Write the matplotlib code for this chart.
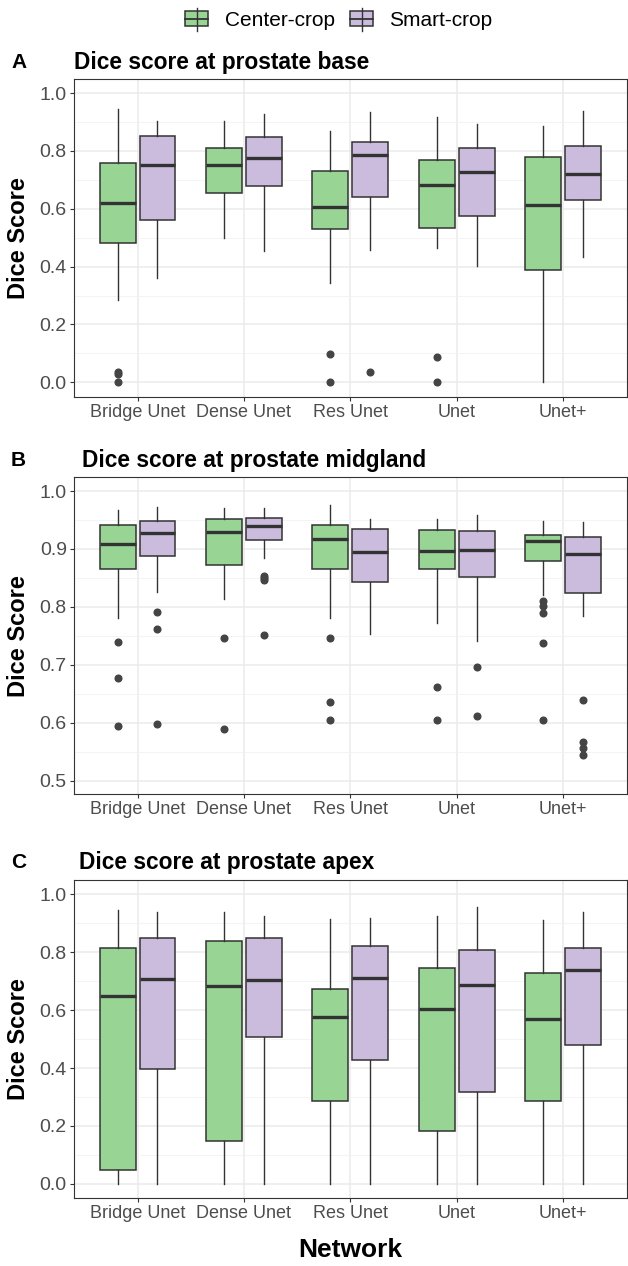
import numpy as np
import matplotlib
matplotlib.use("Agg")
import matplotlib.pyplot as plt
from matplotlib.patches import Rectangle

plt.rcParams["font.family"] = ["Liberation Sans", "DejaVu Sans"]

networks = ["Bridge Unet", "Dense Unet", "Res Unet", "Unet", "Unet+"]
groups = ["Center-crop", "Smart-crop"]
fills = {"Center-crop": "#98d594", "Smart-crop": "#cbbcdd"}

# five-number summaries per network: (whislo, q1, med, q3, whishi)
base_center = [(0.285, 0.482, 0.620, 0.758, 0.945), (0.498, 0.654, 0.752, 0.811, 0.904),
               (0.343, 0.529, 0.607, 0.729, 0.869), (0.464, 0.532, 0.683, 0.768, 0.918),
               (0.0, 0.388, 0.613, 0.778, 0.886)]
base_smart = [(0.359, 0.562, 0.752, 0.851, 0.904), (0.453, 0.680, 0.774, 0.849, 0.927),
              (0.459, 0.642, 0.785, 0.831, 0.935), (0.401, 0.574, 0.728, 0.811, 0.894),
              (0.432, 0.631, 0.720, 0.818, 0.939)]
base_center_out = [[0.035, 0.028, 0.0], [], [0.096, 0.0], [0.086, 0.0], []]
base_smart_out = [[], [], [0.035], [], []]

mid_center = [(0.781, 0.866, 0.909, 0.941, 0.968), (0.814, 0.872, 0.929, 0.951, 0.970),
              (0.781, 0.865, 0.917, 0.942, 0.976), (0.773, 0.866, 0.896, 0.933, 0.952),
              (0.820, 0.880, 0.913, 0.924, 0.949)]
mid_smart = [(0.826, 0.888, 0.928, 0.948, 0.972), (0.885, 0.916, 0.940, 0.953, 0.971),
             (0.753, 0.843, 0.894, 0.935, 0.952), (0.741, 0.852, 0.899, 0.931, 0.959),
             (0.785, 0.824, 0.892, 0.920, 0.946)]
mid_center_out = [[0.740, 0.678, 0.595], [0.746, 0.590], [0.747, 0.635, 0.604],
                  [0.661, 0.604], [0.811, 0.801, 0.789, 0.737, 0.605]]
mid_smart_out = [[0.791, 0.762, 0.598], [0.854, 0.850, 0.846, 0.751], [],
                 [0.697, 0.612], [0.639, 0.566, 0.557, 0.545]]

apex_center = [(0.0, 0.047, 0.650, 0.816, 0.948), (0.0, 0.149, 0.683, 0.840, 0.940),
               (0.0, 0.285, 0.578, 0.672, 0.914), (0.0, 0.181, 0.603, 0.745, 0.924),
               (0.0, 0.287, 0.568, 0.730, 0.912)]
apex_smart = [(0.0, 0.396, 0.708, 0.848, 0.940), (0.0, 0.506, 0.704, 0.848, 0.925),
              (0.0, 0.429, 0.713, 0.823, 0.919), (0.0, 0.317, 0.687, 0.808, 0.957),
              (0.0, 0.479, 0.740, 0.816, 0.940)]
apex_center_out = [[], [], [], [], []]
apex_smart_out = [[], [], [], [], []]

panels = [
    ("A", "Dice score at prostate base", base_center, base_smart, base_center_out, base_smart_out),
    ("B", "Dice score at prostate midgland", mid_center, mid_smart, mid_center_out, mid_smart_out),
    ("C", "Dice score at prostate apex", apex_center, apex_smart, apex_center_out, apex_smart_out),
]

W, H = 628, 1266
fig = plt.figure(figsize=(W / 100, H / 100), dpi=100)


def px_axes(left, top, right, bottom):
    return fig.add_axes([left / W, 1 - bottom / H, (right - left) / W, (bottom - top) / H])


def make_stats(summary, outliers):
    return [dict(whislo=s[0], q1=s[1], med=s[2], q3=s[3], whishi=s[4], fliers=o)
            for s, o in zip(summary, outliers)]


# pixel layout of each panel: axes box, ylim, ticks, title anchor
layout = [
    dict(box=(73.7, 78.7, 627, 396.7), ylim=(-0.05, 1.05), major=np.arange(0, 1.01, 0.2),
         minor=np.arange(0.1, 1.0, 0.2), title_y=62, title_x=74),
    dict(box=(73.7, 477.3, 627, 794.3), ylim=(0.4765, 1.0237), major=np.arange(0.5, 1.01, 0.1),
         minor=np.arange(0.55, 1.0, 0.1), title_y=460, title_x=82),
    dict(box=(73.7, 880, 627, 1198.3), ylim=(-0.05, 1.05), major=np.arange(0, 1.01, 0.2),
         minor=np.arange(0.1, 1.0, 0.2), title_y=863, title_x=79),
]

x = np.arange(1, len(networks) + 1)
dodge = 0.1875
bw = 0.3375

for (letter, title, cen, sma, cen_o, sma_o), lay in zip(panels, layout):
    ax = px_axes(*lay["box"])
    ax.set_xlim(0.4, len(networks) + 0.6)
    ax.set_ylim(*lay["ylim"])
    ax.set_yticks(lay["major"])
    ax.set_yticks(lay["minor"], minor=True)
    ax.set_yticklabels([f"{v:.1f}" for v in lay["major"]])
    ax.set_xticks(x)
    ax.set_xticklabels(networks)
    ax.grid(True, which="major", color="#ebebeb", lw=1.1, zorder=0)
    ax.grid(True, which="minor", axis="y", color="#f2f2f2", lw=0.6, zorder=0)
    ax.set_axisbelow(True)
    ax.tick_params(axis="both", which="major", length=3, width=0.8, color="#333333",
                   labelcolor="#4d4d4d", pad=2)
    ax.tick_params(axis="y", labelsize=14)
    ax.tick_params(axis="x", labelsize=13)
    ax.tick_params(which="minor", length=0)
    for sp in ax.spines.values():
        sp.set_color("#333333")
        sp.set_linewidth(0.8)

    for data, outs, off, grp in [(cen, cen_o, -dodge, groups[0]), (sma, sma_o, dodge, groups[1])]:
        ax.bxp(make_stats(data, outs), positions=x + off, widths=bw, patch_artist=True,
               showcaps=False, manage_ticks=False,
               boxprops=dict(facecolor=fills[grp], edgecolor="#333333", lw=1.1),
               whiskerprops=dict(color="#333333", lw=1.0),
               medianprops=dict(color="#333333", lw=2.4, solid_capstyle="butt"),
               flierprops=dict(marker="o", markersize=4.8, markerfacecolor="#444444",
                               markeredgecolor="#444444"))

    cy = (lay["box"][1] + lay["box"][3]) / 2
    fig.text(19 / W, 1 - cy / H, "Dice Score", rotation=90, ha="center", va="center",
             fontsize=17, fontweight="bold")
    fig.text(11 / W, 1 - lay["title_y"] / H, letter, ha="left", va="center",
             fontsize=15, fontweight="bold")
    fig.text(lay["title_x"] / W, 1 - lay["title_y"] / H, title, ha="left", va="center",
             fontsize=16.4, fontweight="bold")

fig.text(350 / W, 1 - 1250 / H, "Network", ha="center", va="center", fontsize=19,
         fontweight="bold")

# legend drawn in pixel coordinates
leg = px_axes(0, 0, W, 40)
leg.set_xlim(0, W)
leg.set_ylim(40, 0)
leg.axis("off")
for kx, tx, grp in [(185, 225, groups[0]), (350, 389, groups[1])]:
    leg.plot([kx + 11.5, kx + 11.5], [8, 31], color="#333333", lw=1.0)
    leg.add_patch(Rectangle((kx, 11), 23, 15, facecolor=fills[grp], edgecolor="#333333", lw=1.1))
    leg.plot([kx, kx + 23], [18.5, 18.5], color="#333333", lw=1.3)
    leg.text(tx, 20, grp, ha="left", va="center", fontsize=15)

fig.savefig("out.png", dpi=100)
